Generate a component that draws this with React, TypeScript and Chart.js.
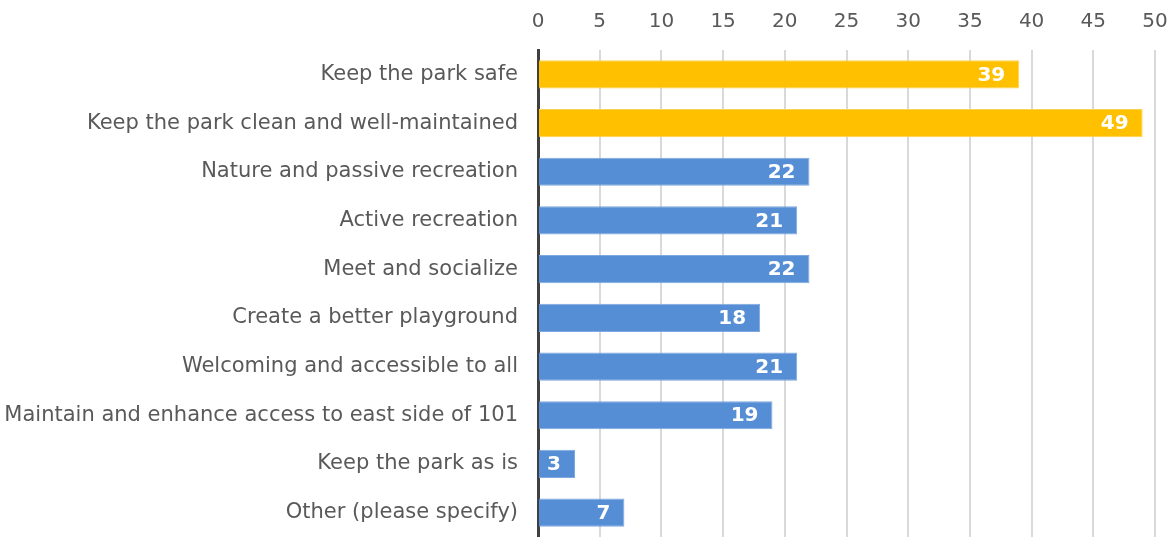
import React, { useEffect, useRef } from "react";
import { Chart, registerables } from "chart.js";
Chart.register(...registerables);

const categories = [
  "Keep the park safe",
  "Keep the park clean and well-maintained",
  "Nature and passive recreation",
  "Active recreation",
  "Meet and socialize",
  "Create a better playground",
  "Welcoming and accessible to all",
  "Maintain and enhance access to east side of 101",
  "Keep the park as is",
  "Other (please specify)",
];
const values = [39, 49, 22, 21, 22, 18, 21, 19, 3, 7];
const highlighted = [true, true, false, false, false, false, false, false, false, false];

const FONT = "'DejaVu Sans', sans-serif";

const labelPlugin = {
  id: "barLabels",
  afterDatasetsDraw(chart: any) {
    const ctx = chart.ctx;
    const meta = chart.getDatasetMeta(0);
    ctx.save();
    ctx.fillStyle = "#ffffff";
    ctx.font = `bold 20px ${FONT}`;
    ctx.textAlign = "right";
    ctx.textBaseline = "middle";
    meta.data.forEach((bar: any, i: number) => {
      ctx.fillText(String(values[i]), bar.x - 14, bar.y + 1);
    });
    ctx.restore();
  },
};

export default function App() {
  const ref = useRef<HTMLCanvasElement>(null);
  useEffect(() => {
    if (!ref.current) return;
    const chart = new Chart(ref.current, {
      type: "bar",
      data: {
        labels: categories,
        datasets: [
          {
            data: values,
            backgroundColor: highlighted.map((h) => (h ? "#FFC000" : "#558ED5")),
            borderColor: highlighted.map((h) => (h ? "#FFD24D" : "#7FA8E0")),
            borderWidth: 1,
            barPercentage: 0.58,
            categoryPercentage: 1,
          },
        ],
      },
      options: {
        indexAxis: "y",
        animation: false,
        responsive: false,
        maintainAspectRatio: false,
        layout: { padding: { left: 0, right: 17, top: 0, bottom: 0 } },
        plugins: { legend: { display: false }, tooltip: { enabled: false } },
        scales: {
          x: {
            position: "top",
            min: 0,
            max: 50,
            ticks: {
              stepSize: 5,
              color: "#595959",
              font: { family: FONT, size: 20 },
              padding: 16,
            },
            grid: { color: "#D9D9D9", lineWidth: 2, drawTicks: false },
            border: { display: false },
            afterFit: (s: any) => {
              s.height = 50;
              s.paddingLeft = 0;
              s.paddingRight = 0;
            },
          },
          y: {
            ticks: {
              color: "#595959",
              font: { family: FONT, size: 21 },
              padding: 20,
            },
            grid: { display: false, drawTicks: false },
            border: { display: true, color: "#404040", width: 3 },
            afterFit: (s: any) => {
              s.width = 538;
              s.paddingTop = 0;
              s.paddingBottom = 0;
            },
          },
        },
      },
      plugins: [labelPlugin],
    });
    return () => chart.destroy();
  }, []);
  return (
    <div style={{ position: "fixed", left: 0, top: 0, width: 1172, height: 537, background: "#fff" }}>
      <canvas ref={ref} width={1172} height={537} style={{ width: 1172, height: 537 }} />
    </div>
  );
}
